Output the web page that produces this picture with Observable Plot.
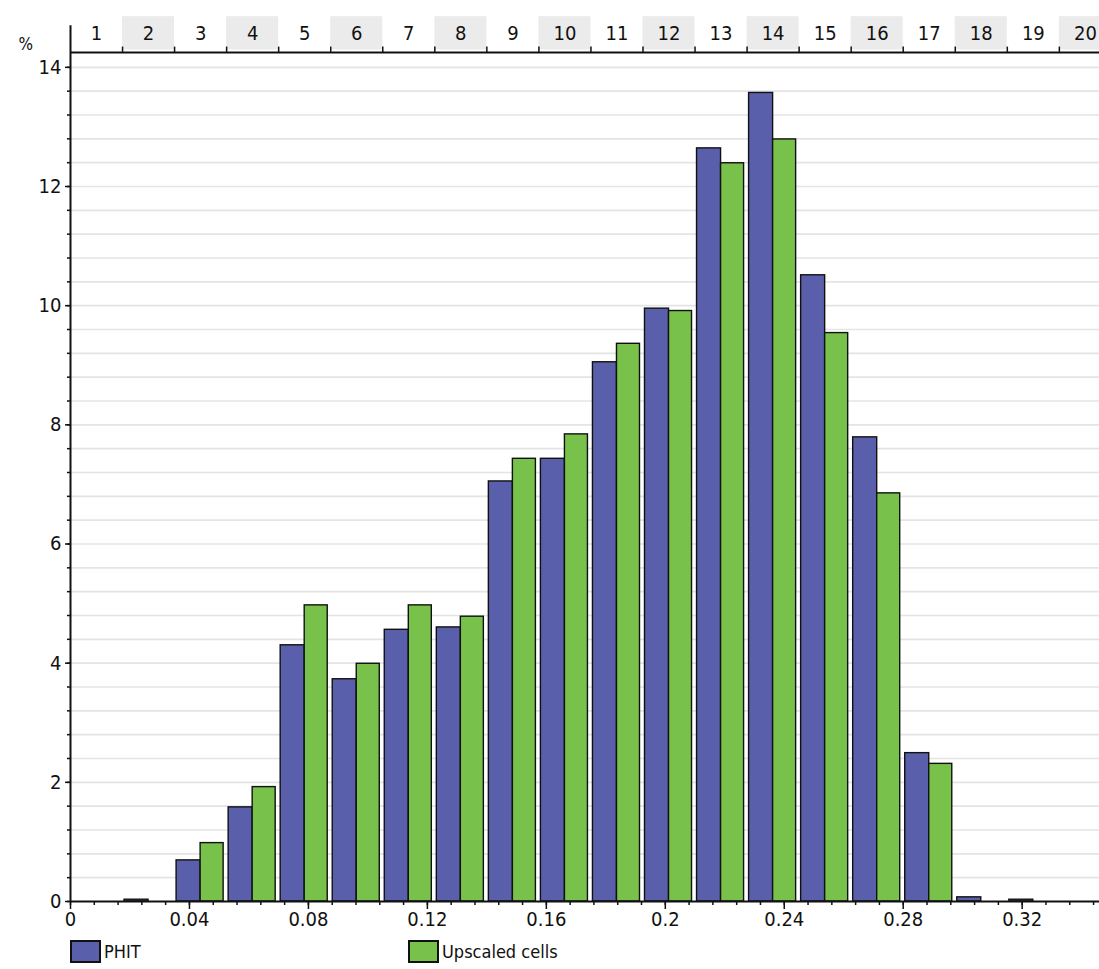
<!DOCTYPE html>
<html>
<head>
<meta charset="utf-8">
<script src="https://cdn.jsdelivr.net/npm/d3@7"></script>
<script src="https://cdn.jsdelivr.net/npm/@observablehq/plot@0.6"></script>
<style>
  html, body { margin: 0; padding: 0; background: #fff; }
  #wrap { position: relative; width: 1099px; height: 969px; overflow: hidden; font-family: "Liberation Sans Narrow", "DejaVu Sans Condensed", sans-serif; }
  #chart svg { display: block; }
  .leg { position: absolute; top: 940px; display: flex; align-items: center; font-size: 18px; color: #111; }
  .sw { width: 27px; height: 19px; border: 2px solid #111; margin-right: 3px; }
</style>
</head>
<body>
<div id="wrap">
  <div id="chart"></div>
  <div class="leg" style="left:70px"><div class="sw" style="background:#5a5fab"></div><span>PHIT</span></div>
  <div class="leg" style="left:408px"><div class="sw" style="background:#78c14a"></div><span>Upscaled cells</span></div>
</div>
<script>
// ---- data ----
const bins = [1,2,3,4,5,6,7,8,9,10,11,12,13,14,15,16,17,18,19,20];
const binStart = [0,0.0175,0.035,0.0525,0.07,0.0875,0.105,0.1225,0.14,0.1575,0.175,0.1925,0.21,0.2275,0.245,0.2625,0.28,0.2975,0.315,0.3325];
const binEnd   = [0.0175,0.035,0.0525,0.07,0.0875,0.105,0.1225,0.14,0.1575,0.175,0.1925,0.21,0.2275,0.245,0.2625,0.28,0.2975,0.315,0.3325,0.35];
const phit     = [0,0.03,0.69,1.58,4.30,3.73,4.56,4.60,7.05,7.43,9.05,9.95,12.64,13.57,10.51,7.79,2.49,0.07,0.03,0];
const upscaled = [0,0,0.98,1.92,4.97,3.99,4.97,4.78,7.43,7.84,9.36,9.91,12.39,12.79,9.54,6.85,2.31,0,0,0];
const xTicks = [0,0.04,0.08,0.12,0.16,0.2,0.24,0.28,0.32];
const yTicks = [0,2,4,6,8,10,12,14];

// ---- layout helpers (scale-space constants) ----
const yMax = 14.87, headerBase = 14.25, headerTop = 14.85, headerMid = 14.57, yAxisTop = 14.7;

const table = bins.map((b, i) => ({
  bin: b, x0: binStart[i], x1: binEnd[i], xm: (binStart[i] + binEnd[i]) / 2,
  phit: phit[i], up: upscaled[i]
}));
const minorX = d3.range(0, 0.3461, 0.008);
const minorY = d3.range(0, 14.01, 0.4);
const gridY = d3.range(0.4, 14.01, 0.4);
const fmt = d => String(+d.toFixed(2));
const font = '"Liberation Sans Narrow", "DejaVu Sans Condensed", sans-serif';

const chart = Plot.plot({
  width: 1099,
  height: 930,
  marginLeft: 70,
  marginRight: 0,
  marginTop: 15,
  marginBottom: 29,
  style: { fontFamily: font, fontSize: "19px", color: "#111", background: "#fff" },
  x: { domain: [0, 0.346] },
  y: { domain: [0, yMax] },
  marks: [
    Plot.ruleY(gridY, { stroke: "#e4e4e4", strokeWidth: 1.6 }),
    // header cells
    Plot.rect(table.filter(d => d.bin % 2 === 0), { x1: "x0", x2: "x1", y1: headerBase + 0.04, y2: headerTop, fill: "#ebebeb" }),
    Plot.text(table, { x: "xm", y: headerMid, text: d => String(d.bin), fontSize: 20, fill: "#111" }),
    Plot.ruleX(table.slice(1), { x: "x0", y1: headerBase, y2: headerBase + 0.09, stroke: "#111", strokeWidth: 1.5 }),
    Plot.ruleY([headerBase], { stroke: "#111", strokeWidth: 2 }),
    // bars
    Plot.rectY(table, { x1: "x0", x2: "xm", y: "phit", fill: "#5a5fab", stroke: "#111", strokeWidth: 1.4, insetLeft: 2 }),
    Plot.rectY(table, { x1: "xm", x2: "x1", y: "up", fill: "#78c14a", stroke: "#111", strokeWidth: 1.4, insetRight: 3 }),
    // axes
    Plot.axisX({ ticks: minorX, tickSize: 4, tickFormat: null, text: null, strokeWidth: 1.5 }),
    Plot.axisX({ ticks: xTicks, tickSize: 8, tickFormat: fmt, tickPadding: 2, fontSize: 20, strokeWidth: 1.5 }),
    Plot.axisY({ ticks: minorY, tickSize: 3, tickFormat: null, text: null, strokeWidth: 1.5 }),
    Plot.axisY({ ticks: yTicks, tickSize: 5, tickFormat: fmt, tickPadding: 4, fontSize: 20, strokeWidth: 1.5, label: null }),
    Plot.ruleY([0], { stroke: "#111", strokeWidth: 2 }),
    Plot.ruleX([0], { y1: 0, y2: yAxisTop, stroke: "#111", strokeWidth: 2 }),
    Plot.text(["%"], { frameAnchor: "top-left", dx: -52, dy: 22, fontSize: 17, fill: "#111" })
  ]
});
document.getElementById("chart").appendChild(chart);
</script>
</body>
</html>
